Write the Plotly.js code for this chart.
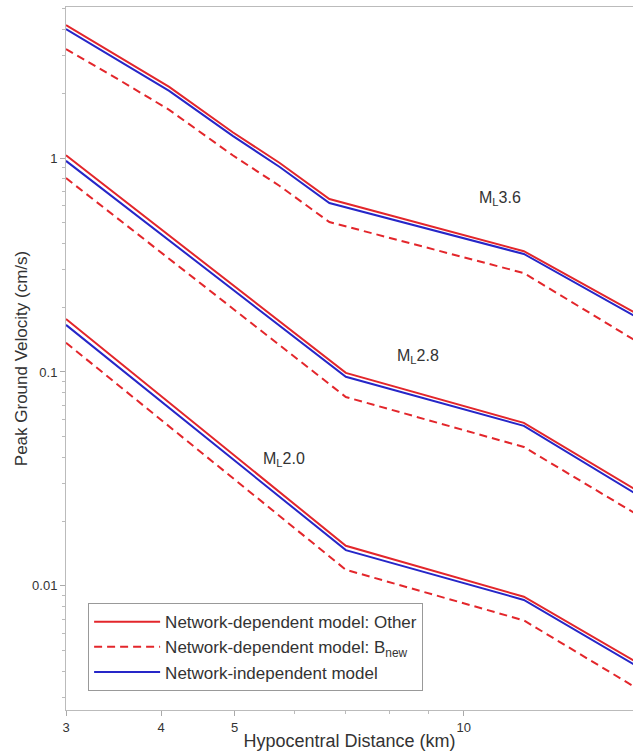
<!DOCTYPE html>
<html>
<head>
<meta charset="utf-8">
<script src="https://cdn.plot.ly/plotly-3.0.1.min.js"></script>
<style>html,body{margin:0;padding:0;background:#fff;}#chart{width:633px;height:753px;}</style>
</head>
<body>
<div id="chart"></div>
<script>
// Distances (km)
const dist36 = [3, 3.53, 4.10, 4.97, 5.73, 6.66, 12, 17];
const dist28 = [3, 7, 12, 17];
const dist20 = [3, 7, 12, 17];

// ML 3.6
const ml36_other = [4.18, 2.96, 2.15, 1.32, 0.948, 0.643, 0.367, 0.185];
const ml36_bnew  = [3.23, 2.31, 1.68, 1.03, 0.740, 0.502, 0.290, 0.137];
const ml36_indep = [4.01, 2.84, 2.06, 1.27, 0.908, 0.616, 0.356, 0.178];
// ML 2.8
const ml28_other = [1.03, 0.099, 0.0578, 0.0276];
const ml28_bnew  = [0.806, 0.0764, 0.0446, 0.0213];
const ml28_indep = [0.97, 0.095, 0.0560, 0.0264];
// ML 2.0
const ml20_other = [0.177, 0.0154, 0.0089, 0.00434];
const ml20_bnew  = [0.137, 0.0119, 0.0069, 0.00328];
const ml20_indep = [0.166, 0.0147, 0.0086, 0.00416];

const seriesNames = ["Network-dependent model: Other", "Network-dependent model: B<sub>new</sub>", "Network-independent model"];
const magLabels = ["M<sub>L</sub>3.6", "M<sub>L</sub>2.8", "M<sub>L</sub>2.0"];
const magLabelX = [11.15, 8.70, 5.81];
const magLabelY = [0.65, 0.1175, 0.0388];
const xTicks = [3, 4, 5, 10];
const xMinor = [6, 7, 8, 9];
const yTicks = [0.01, 0.1, 1];
const yTickText = ["0.01", "0.1", "1"];
const yMinor = [0.003,0.004,0.005,0.006,0.007,0.008,0.009,0.02,0.03,0.04,0.05,0.06,0.07,0.08,0.09,0.2,0.3,0.4,0.5,0.6,0.7,0.8,0.9,2,3,4,5];

const RED = "#e3262b", BLUE = "#2626c8";
const styles = [
  {color: RED, width: 2, dash: "solid"},
  {color: RED, width: 2, dash: "8px,5px"},
  {color: BLUE, width: 2, dash: "solid"}
];

const groups = [
  [dist36, [ml36_other, ml36_bnew, ml36_indep]],
  [dist28, [ml28_other, ml28_bnew, ml28_indep]],
  [dist20, [ml20_other, ml20_bnew, ml20_indep]]
];

const order = [1, 0, 2];
const traces = [];
groups.forEach((g, gi) => {
  order.forEach(si => {
    traces.push({
      x: g[0], y: g[1][si], type: "scatter", mode: "lines",
      name: seriesNames[si], legendgroup: "s" + si,
      legendrank: si + 1,
      showlegend: gi === 0,
      line: styles[si], hoverinfo: "skip"
    });
  });
});

const layout = {
  width: 633, height: 753,
  margin: {l: 66, r: 0, t: 7, b: 43},
  paper_bgcolor: "#fff", plot_bgcolor: "#fff",
  font: {family: "Liberation Sans, Arial, sans-serif", color: "#333", size: 12},
  showlegend: true,
  legend: {
    x: 0.039, y: 0.152, xanchor: "left", yanchor: "top",
    bgcolor: "#fff", bordercolor: "#999", borderwidth: 1,
    font: {size: 17, color: "#333"}, itemwidth: 66,
    traceorder: "normal"
  },
  xaxis: {
    type: "log", range: [Math.log10(3), Math.log10(16.7)],
    tickvals: xTicks, ticktext: xTicks.map(String),
    ticks: "outside", ticklen: 5, tickcolor: "#aaa",
    showline: true, linecolor: "#bbb", linewidth: 1, mirror: true,
    showgrid: false, zeroline: false,
    minor: {tickvals: xMinor, ticks: "outside", ticklen: 3, tickcolor: "#bbb", showgrid: false},
    tickfont: {size: 13, color: "#333"},
    title: {text: "Hypocentral Distance (km)", font: {size: 18, color: "#333"}, standoff: 0}
  },
  yaxis: {
    type: "log", range: [-2.58, 0.706],
    tickvals: yTicks, ticktext: yTickText,
    ticks: "outside", ticklen: 5, tickcolor: "#aaa",
    showline: true, linecolor: "#bbb", linewidth: 1,
    showgrid: false, zeroline: false,
    minor: {tickvals: yMinor, ticks: "outside", ticklen: 3, tickcolor: "#bbb", showgrid: false},
    tickfont: {size: 13, color: "#333"},
    title: {text: "Peak Ground Velocity (cm/s)", font: {size: 17, color: "#333"}, standoff: 0}
  },
  annotations: magLabels.map((t, i) => ({
    x: Math.log10(magLabelX[i]), y: Math.log10(magLabelY[i]), text: t,
    xref: "x", yref: "y", showarrow: false, font: {size: 16, color: "#333"}
  }))
};

Plotly.newPlot("chart", traces, layout, {displayModeBar: false, staticPlot: true});
</script>
</body>
</html>
